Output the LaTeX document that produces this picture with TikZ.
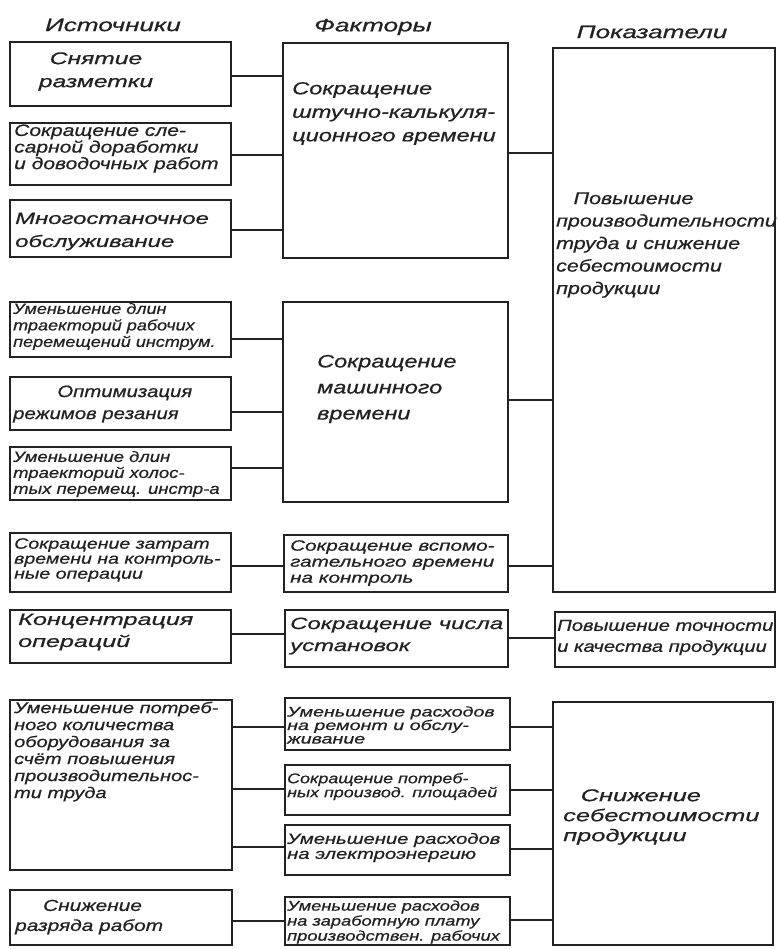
\documentclass[tikz,border=0pt]{standalone}
\usepackage{fontspec}
\newfontfamily\hand[FakeStretch=1.45,FakeBold=0.7]{Liberation Sans}
\definecolor{ink}{HTML}{222222}
\newcommand\hf[2]{\hand\itshape\fontsize{#1}{#2}\selectfont}
\begin{document}
\begin{tikzpicture}[x=1pt,y=-1pt,
  box/.style={draw=ink, line width=2.6pt, anchor=north west, inner sep=0pt, outer sep=0pt},
  conn/.style={draw=ink, line width=1.3pt},
  txt/.style={text=ink, align=left, inner sep=0pt, anchor=west, transform shape},
  head/.style={text=ink, inner sep=0pt, anchor=center, font=\hf{18}{22}}]
\useasboundingbox (0,0) rectangle (777,949);
\fill[white] (0,0) rectangle (777,949);

% headers
\node[head] (hS) at (113,25) {Источники};
\node[head] (hF) at (373,27) {Факторы};
\node[head] (hP) at (652,32) {Показатели};

% column 1 boxes
\node[box, minimum width=221pt, minimum height=64pt] (s1) at (10,42) {};
\node[box, minimum width=221pt, minimum height=62pt] (s2) at (10,123) {};
\node[box, minimum width=221pt, minimum height=57pt] (s3) at (10,200) {};
\node[box, minimum width=221pt, minimum height=55pt] (s4) at (10,302) {};
\node[box, minimum width=221pt, minimum height=53pt] (s5) at (10,377) {};
\node[box, minimum width=221pt, minimum height=53pt] (s6) at (10,447) {};
\node[box, minimum width=221pt, minimum height=59pt] (s7) at (10,533) {};
\node[box, minimum width=221pt, minimum height=53pt] (s8) at (10,610) {};
\node[box, minimum width=222pt, minimum height=170pt] (s9) at (10,700) {};
\node[box, minimum width=222pt, minimum height=55pt] (s10) at (10,890) {};

% column 2 boxes
\node[box, minimum width=225pt, minimum height=215pt] (f1) at (283,43) {};
\node[box, minimum width=225pt, minimum height=200pt] (f2) at (283,302) {};
\node[box, minimum width=224pt, minimum height=57pt] (f3) at (284,535) {};
\node[box, minimum width=223pt, minimum height=57pt] (f4) at (285,610) {};
\node[box, minimum width=225pt, minimum height=52pt] (f5) at (285,698) {};
\node[box, minimum width=225pt, minimum height=50pt] (f6) at (285,765) {};
\node[box, minimum width=225pt, minimum height=50pt] (f7) at (285,825) {};
\node[box, minimum width=225pt, minimum height=48pt] (f8) at (285,897) {};

% column 3 boxes
\node[box, minimum width=222pt, minimum height=544pt] (p1) at (553,48) {};
\node[box, minimum width=220pt, minimum height=55pt] (p2) at (555,612) {};
\node[box, minimum width=220pt, minimum height=243pt] (p3) at (553,702) {};

% texts column 1
\node[txt, align=center, anchor=center, font=\hf{17}{23}] (t1) at (96,71.5) {Снятие\\разметки};
\node[txt, xscale=0.88, font=\hf{16.5}{15.5}] (t2) at (14,148.5) {Сокращение сле-\\сарной доработки\\и доводочных работ};
\node[txt, font=\hf{16.5}{23}] (t3) at (15,231.5) {Многостаночное\\обслуживание};
\node[txt, xscale=0.83, font=\hf{15}{16.5}] (t4) at (13,326.5) {Уменьшение длин\\траекторий рабочих\\перемещений инструм.};
\node[txt, xscale=0.85, font=\hf{16.5}{22}] (t5) at (13,404) {\hspace*{52pt}Оптимизация\\режимов резания};
\node[txt, xscale=0.85, font=\hf{15}{16}] (t6) at (13,474) {Уменьшение длин\\траекторий холос-\\тых перемещ. инстр-а};
\node[txt, xscale=0.9, font=\hf{15}{15}] (t7) at (14,560) {Сокращение затрат\\времени на контроль-\\ные операции};
\node[txt, xscale=1.05, font=\hf{16.5}{22}] (t8) at (18,632) {Концентрация\\операций};
\node[txt, xscale=0.89, font=\hf{15.5}{17}] (t9) at (14,751.5) {Уменьшение потреб-\\ного количества\\оборудования за\\счёт повышения\\производительнос-\\ти труда};
\node[txt, xscale=0.9, font=\hf{16}{20}] (t10) at (15,917) {\hspace*{31pt}Снижение\\разряда работ};

% texts column 2
\node[txt, xscale=0.93, font=\hf{17.5}{23.5}] (u1) at (292,113.5) {Сокращение\\штучно-калькуля-\\ционного времени};
\node[txt, xscale=0.9, font=\hf{18}{26}] (u2) at (317,389) {Сокращение\\машинного\\времени};
\node[txt, xscale=0.95, font=\hf{15}{16}] (u3) at (290,563) {Сокращение вспомо-\\гательного времени\\на контроль};
\node[txt, font=\hf{16.5}{22}] (u4) at (290,636) {Сокращение числа\\установок};
\node[txt, xscale=0.97, font=\hf{14}{13.5}] (u5) at (287,725) {Уменьшение расходов\\на ремонт и обслу-\\живание};
\node[txt, xscale=0.88, font=\hf{14}{14}] (u6) at (287,786.5) {Сокращение потреб-\\ных производ. площадей};
\node[txt, xscale=0.93, font=\hf{15}{15}] (u7) at (287,847.5) {Уменьшение расходов\\на электроэнергию};
\node[txt, xscale=0.9, font=\hf{14}{15}] (u8) at (287,922) {Уменьшение расходов\\на заработную плату\\производствен. рабочих};

% texts column 3
\node[txt, xscale=0.87, font=\hf{17}{22.5}] (v1) at (556,245) {\hspace*{20pt}Повышение\\производительности\\труда и снижение\\себестоимости\\продукции};
\node[txt, xscale=0.87, font=\hf{16}{21}] (v2) at (557,637.5) {Повышение точности\\и качества продукции};
\node[txt, xscale=1.03, font=\hf{17}{20}] (v3) at (563,817) {\hspace*{17pt}Снижение\\себестоимости\\продукции};

% connectors column 1 -> column 2
\draw[conn] (s1.east |- 0,76) -- (f1.west |- 0,76);
\draw[conn] (s2.east |- 0,155) -- (f1.west |- 0,155);
\draw[conn] (s3.east |- 0,230) -- (f1.west |- 0,230);
\draw[conn] (s4.east |- 0,339) -- (f2.west |- 0,339);
\draw[conn] (s5.east |- 0,412) -- (f2.west |- 0,412);
\draw[conn] (s6.east |- 0,468) -- (f2.west |- 0,468);
\draw[conn] (s7.east |- 0,566) -- (f3.west |- 0,566);
\draw[conn] (s8.east |- 0,634) -- (f4.west |- 0,634);
\draw[conn] (s9.east |- 0,727) -- (f5.west |- 0,727);
\draw[conn] (s9.east |- 0,789) -- (f6.west |- 0,789);
\draw[conn] (s9.east |- 0,847) -- (f7.west |- 0,847);
\draw[conn] (s10.east |- 0,921) -- (f8.west |- 0,921);

% connectors column 2 -> column 3
\draw[conn] (f1.east |- 0,153) -- (p1.west |- 0,153);
\draw[conn] (f2.east |- 0,400) -- (p1.west |- 0,400);
\draw[conn] (f3.east |- 0,566) -- (p1.west |- 0,566);
\draw[conn] (f4.east |- 0,638) -- (p2.west |- 0,638);
\draw[conn] (f5.east |- 0,727) -- (p3.west |- 0,727);
\draw[conn] (f6.east |- 0,790) -- (p3.west |- 0,790);
\draw[conn] (f7.east |- 0,849) -- (p3.west |- 0,849);
\draw[conn] (f8.east |- 0,920) -- (p3.west |- 0,920);
\end{tikzpicture}
\end{document}
